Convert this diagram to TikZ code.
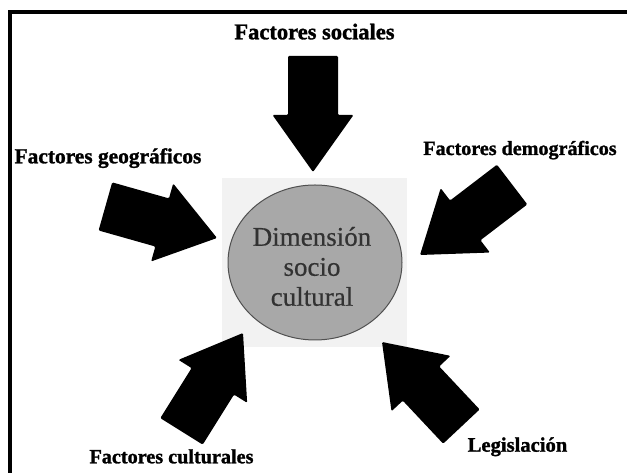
\documentclass[tikz,border=0pt]{standalone}
\usepackage{fontspec}
\setmainfont{Liberation Serif}
\newfontfamily\heavyfont{Liberation Serif}[UprightFont={* Bold}, FakeBold=1.3]
\newfontfamily\discfont{Liberation Serif}[FakeBold=0.6]
\usetikzlibrary{shapes.geometric}
\definecolor{sqgray}{RGB}{242,242,242}
\definecolor{discfill}{RGB}{168,168,168}
\definecolor{discline}{RGB}{80,80,80}
\definecolor{disctext}{RGB}{50,50,50}
\begin{document}
\begin{tikzpicture}[x=1pt,y=1pt,
  lbl/.style={anchor=base, inner sep=0pt},
  blockarr/.pic={\fill[black, rounded corners=1.2pt] (0,0) -- (-57,40.5) -- (-57,25) -- (-116,25) -- (-116,-25) -- (-57,-25) -- (-57,-40.5) -- cycle;},
  frameline/.style={line width=4pt, black}
]
\useasboundingbox (0,0) rectangle (627,473);
\fill[white] (0,0) rectangle (627,473);
% frame
\draw[frameline] (9.5,0) -- (9.5,460.5) -- (627,460.5);
% light square behind disc
\fill[sqgray] (222,126) rectangle (407,295);
% central disc
\node[ellipse, minimum width=174pt, minimum height=155pt, fill=discfill, draw=discline, line width=1pt, inner sep=0pt] (disc) at (315,210.5) {};
\node[font=\fontsize{27}{30}\discfont, text=disctext, align=center, inner sep=0pt] (disctxt) at (312,206.5) {Dimensión\\socio\\cultural};
% labels
\node[lbl, font=\fontsize{22.5}{27}\heavyfont] (soc) at (314.5,433.7) {Factores sociales};
\node[lbl, font=\fontsize{21.4}{26}\heavyfont] (geo) at (108,309.7) {Factores geográficos};
\node[lbl, font=\fontsize{20.1}{24}\heavyfont] (dem) at (520,318) {Factores demográficos};
\node[lbl, font=\fontsize{20.2}{24}\heavyfont] (cul) at (171.5,9.7) {Factores culturales};
\node[lbl, font=\fontsize{20.6}{25}\heavyfont] (leg) at (517.5,21.3) {Legislación};
% arrow tips
\coordinate (tipsoc) at (313,301);
\coordinate (tipgeo) at (217,235);
\coordinate (tipdem) at (420,218);
\coordinate (tipcul) at (243,140);
\coordinate (tipleg) at (382,131);
% block arrows
\pic[rotate=-90] at (tipsoc) {blockarr};
\pic[rotate=-15.8] at (tipgeo) {blockarr};
\pic[rotate=217.4] at (tipdem) {blockarr};
\pic[rotate=58] at (tipcul) {blockarr};
\pic[rotate=133.2] at (tipleg) {blockarr};
\end{tikzpicture}
\end{document}
